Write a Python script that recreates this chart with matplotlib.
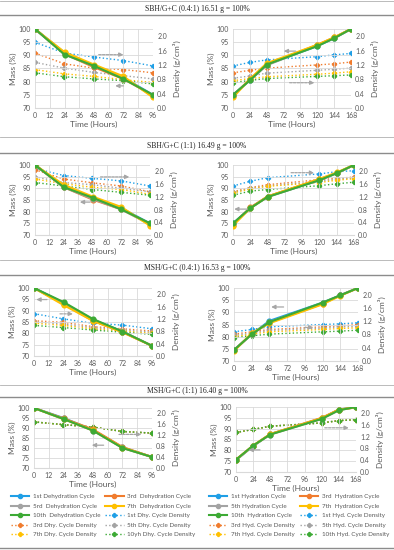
import matplotlib
matplotlib.use('Agg')
import matplotlib.pyplot as plt
from matplotlib.lines import Line2D

plt.rcParams['font.family'] = ['Lato', 'DejaVu Sans']

# time axes
hours_dhy = [0, 24, 48, 72, 96]
hours_hyd = [0, 24, 48, 120, 144, 168]

# order of series: 1st, 3rd, 5th, 7th, 10th cycle
colors = ['#1F9FE6', '#F07C2E', '#A3A3A3', '#FFC000', '#3DAA35']

titles = ['SBH/G+C (0.4:1) 16.51 g = 100%', 'SBH/G+C (1:1) 16.49 g = 100%',
          'MSH/G+C (0.4:1) 16.53 g = 100%', 'MSH/G+C (1:1) 16.40 g = 100%']

# SBH/G+C (0.4:1)
sbh04_dhy_mass = [[100, 91, 86, 81.5, 75], [100, 90.5, 85.5, 81, 74.8],
                  [100, 90.5, 86, 81.5, 74.5], [100, 91.2, 86.5, 82, 74],
                  [100, 90.3, 86, 81, 75]]
sbh04_dhy_dens = [[1.83, 1.53, 1.42, 1.32, 1.17], [1.53, 1.23, 1.11, 1.07, 0.98],
                  [1.27, 1.11, 0.99, 0.90, 0.81], [1.07, 0.95, 0.88, 0.79, 0.71],
                  [0.98, 0.87, 0.81, 0.76, 0.67]]
sbh04_hyd_mass = [[75, 80.5, 86.5, 93.5, 96.5, 100], [74.5, 81, 86.5, 94, 96.8, 100],
                  [75, 80.5, 86.2, 93.8, 96.5, 100], [74, 81, 87, 94, 96.8, 100],
                  [75, 80.5, 86.5, 93.5, 96.5, 100]]
sbh04_hyd_dens = [[1.17, 1.27, 1.34, 1.43, 1.48, 1.52], [0.98, 1.05, 1.11, 1.20, 1.23, 1.28],
                  [0.83, 0.89, 0.97, 1.05, 1.08, 1.11], [0.76, 0.82, 0.87, 0.94, 0.97, 1.01],
                  [0.70, 0.77, 0.82, 0.88, 0.90, 0.92]]

# SBH/G+C (1:1)
sbh11_dhy_mass = [[100, 91, 86, 81.5, 75], [100, 90.5, 85.2, 81, 74.8],
                  [100, 90.5, 85.5, 81, 74.5], [100, 91.5, 86.5, 82, 74],
                  [100, 90.5, 86, 81, 75]]
sbh11_dhy_dens = [[2.09, 1.87, 1.78, 1.70, 1.54], [2.05, 1.76, 1.64, 1.54, 1.36],
                  [1.83, 1.65, 1.58, 1.47, 1.36], [1.76, 1.61, 1.50, 1.43, 1.28],
                  [1.65, 1.54, 1.43, 1.34, 1.25]]
sbh11_hyd_mass = [[75, 81.5, 86.5, 93.5, 96.5, 100], [74.5, 81.8, 86.5, 94, 96.5, 100],
                  [74.5, 81.5, 86.3, 93.5, 96.5, 100], [74, 81.5, 86.5, 94, 96.8, 100],
                  [75, 81.5, 86.3, 93.5, 96.5, 100]]
sbh11_hyd_dens = [[1.54, 1.69, 1.80, 1.92, 1.99, 2.02], [1.36, 1.49, 1.58, 1.74, 1.78, 1.82],
                  [1.34, 1.47, 1.54, 1.69, 1.75, 1.80], [1.32, 1.45, 1.53, 1.65, 1.72, 1.77],
                  [1.25, 1.38, 1.43, 1.55, 1.61, 1.66]]

# MSH/G+C (0.4:1)
msh04_dhy_mass = [[100, 93.5, 86, 80.8, 74.5], [100, 93, 85.5, 80.5, 74.5],
                  [100, 93, 86, 80.8, 74.5], [100, 92.5, 85.5, 80.5, 74.5],
                  [100, 93.8, 86.3, 80.8, 74.5]]
msh04_dhy_dens = [[1.37, 1.20, 1.06, 1.00, 0.88], [1.14, 1.09, 0.95, 0.88, 0.81],
                  [1.10, 1.03, 0.92, 0.84, 0.77], [1.06, 0.99, 0.88, 0.81, 0.73],
                  [0.99, 0.92, 0.84, 0.77, 0.70]]
msh04_hyd_mass = [[74.5, 81, 86.5, 94, 97, 100], [74.5, 81, 85.8, 93.5, 97, 100],
                  [74.5, 81, 86, 93.8, 97, 100], [74, 81.5, 85.5, 93.3, 96.8, 100],
                  [74.5, 81, 86, 94, 97, 100]]
msh04_hyd_dens = [[0.88, 0.95, 1.03, 1.10, 1.12, 1.15], [0.81, 0.88, 0.95, 1.03, 1.06, 1.10],
                  [0.77, 0.84, 0.92, 0.99, 1.03, 1.04], [0.73, 0.81, 0.88, 0.95, 0.98, 1.00],
                  [0.70, 0.76, 0.81, 0.88, 0.90, 0.93]]

# MSH/G+C (1:1) - density series overlap, only the 10th is visible
msh11_dhy_mass = [[100, 95, 89, 80.3, 75.5], [100, 94.8, 89.3, 80.5, 75.5],
                  [100, 94.5, 88.7, 80, 75.5], [100, 94.5, 88.8, 80.2, 75.5],
                  [100, 94.5, 88.7, 80, 75.5]]
msh11_dhy_dens = [[1.69, 1.59, 1.50, 1.34, 1.28]] * 5
msh11_hyd_mass = [[75.5, 82, 87.5, 94.8, 98.8, 100], [75.7, 82.2, 87.5, 95, 98.8, 99.8],
                  [75.5, 82, 87.3, 94.5, 98.5, 100], [75.7, 82.2, 87.5, 94.8, 98.8, 99.8],
                  [75.7, 82.2, 87.3, 94.5, 98.5, 100]]
msh11_hyd_dens = [[1.34, 1.44, 1.55, 1.66, 1.74, 1.77]] * 5

dhy_labels = ['1st Dehydration Cycle', '3rd  Dehydration Cycle', '5rd  Dehydration Cycle',
              '7th  Dehydration Cycle', '10th  Dehydration Cycle', '1st Dhy. Cycle Density',
              '3rd Dhy. Cycle Density', '5th Dhy. Cycle Density', '7th Dhy. Cycle Density',
              '10yh Dhy. Cycle Density']
hyd_labels = ['1st Hydration Cycle', '3rd  Hydration Cycle', '5th Hydration Cycle',
              '7th  Hydration Cycle', '10th  Hydration Cycle', '1st Hyd. Cycle Density',
              '3rd Hyd. Cycle Density', '5th Hyd. Cycle Density', '7th Hyd. Cycle Density',
              '10th Hyd. Cycle Density']

W, H = 394, 550
fig = plt.figure(figsize=(W / 100, H / 100), dpi=100)

TXT = '#595959'
GRID = '#D9D9D9'
ARW = '#A6A6A6'


def px_axes(x0, x1, y0, y1):
    return fig.add_axes([x0 / W, 1 - y1 / H, (x1 - x0) / W, (y1 - y0) / H])


def panel(box, x, mass, dens, xticks, arrows):
    ax = px_axes(*box)
    ax2 = ax.twinx()
    for i in range(5):
        ax.plot(x, mass[i], color=colors[i], lw=1.5, marker='o', ms=3.4, zorder=3)
        ax2.plot(x, dens[i], color=colors[i], lw=1.0, ls=':', marker='P', ms=2.8)
    ax.set_zorder(ax2.get_zorder() + 1)
    ax.patch.set_visible(False)
    ax.set_xlim(xticks[0], xticks[-1])
    ax.set_xticks(xticks)
    ax.set_ylim(70, 100)
    ax.set_yticks(range(70, 101, 5))
    ax2.set_ylim(0, 2.2)
    ax2.set_yticks([0, 0.4, 0.8, 1.2, 1.6, 2.0])
    ax2.set_yticklabels(['0.0', '0.4', '0.8', '1.2', '1.6', '2.0'])
    ax.grid(True, color=GRID, lw=0.6)
    ax.set_axisbelow(True)
    for a in (ax, ax2):
        for s in a.spines.values():
            s.set_visible(False)
        a.tick_params(length=0, labelsize=5, labelcolor=TXT, pad=3)
    ax.spines['bottom'].set_visible(True)
    ax.spines['bottom'].set_color(GRID)
    ax.set_xlabel('Time (Hours)', fontsize=6, color=TXT, labelpad=1.5)
    ax.set_ylabel('Mass (%)', fontsize=6, color=TXT, labelpad=1)
    ax2.set_ylabel('Density (g/cm³)', fontsize=6, color=TXT, labelpad=4)
    # axis-indicator arrows (tail, head, y) in axes fraction
    for (xt, xh, yy, dashed) in arrows:
        ax.annotate('', xy=(xh, yy), xytext=(xt, yy), xycoords='axes fraction',
                    arrowprops=dict(arrowstyle='-|>', color=ARW, lw=0.9,
                                    ls=(0, (2, 1)) if dashed else '-',
                                    mutation_scale=6, shrinkA=0, shrinkB=0))
    return ax


panel((35, 153, 29, 108), hours_dhy, sbh04_dhy_mass, sbh04_dhy_dens, list(range(0, 97, 12)),
      [(0.54, 0.75, 0.675, True), (0.75, 0.68, 0.28, False)])
panel((233, 351, 29, 108), hours_hyd, sbh04_hyd_mass, sbh04_hyd_dens, list(range(0, 169, 24)),
      [(0.53, 0.43, 0.72, False), (0.48, 0.69, 0.32, True)])
panel((35, 150, 165, 235), hours_dhy, sbh11_dhy_mass, sbh11_dhy_dens, list(range(0, 97, 12)),
      [(0.57, 0.82, 0.83, True), (0.48, 0.39, 0.47, False)])
panel((233, 354, 165, 235), hours_hyd, sbh11_hyd_mass, sbh11_hyd_dens, list(range(0, 169, 24)),
      [(0.48, 0.67, 0.89, True), (0.12, 0.01, 0.37, False)])
panel((34, 152, 288, 356), hours_dhy, msh04_dhy_mass, msh04_dhy_dens, list(range(0, 97, 12)),
      [(0.11, 0.02, 0.83, False), (0.22, 0.33, 0.62, True)])
panel((234, 358, 288, 361), hours_hyd, msh04_hyd_mass, msh04_hyd_dens, list(range(0, 169, 24)),
      [(0.40, 0.30, 0.74, False), (0.57, 0.64, 0.46, True)])
panel((34, 152, 408, 468), hours_dhy, msh11_dhy_mass, msh11_dhy_dens, list(range(0, 97, 12)),
      [(0.72, 0.91, 0.56, True), (0.59, 0.49, 0.38, False)])
panel((236, 356, 407, 472), hours_hyd, msh11_hyd_mass, msh11_hyd_dens, list(range(0, 169, 24)),
      [(0.74, 0.94, 0.68, True), (0.20, 0.105, 0.34, False)])


def legend_handles():
    hs = []
    for i in range(5):
        hs.append(Line2D([], [], color=colors[i], lw=1.5, marker='o', ms=3))
    for i in range(5):
        hs.append(Line2D([], [], color=colors[i], lw=1.0, ls=':', marker='P', ms=2.8))
    return hs


# legend is filled row by row in the reference; matplotlib fills by column
order = [0, 2, 4, 6, 8, 1, 3, 5, 7, 9]
for labels, x0 in ((dhy_labels, 11), (hyd_labels, 209)):
    hs = legend_handles()
    fig.legend([hs[k] for k in order], [labels[k] for k in order], ncol=2,
               loc='upper left', bbox_to_anchor=(x0 / W, 1 - 494 / H),
               frameon=False, fontsize=4.5, labelcolor=TXT, handlelength=2.9,
               handletextpad=0.6, columnspacing=0.8, labelspacing=0.65,
               borderpad=0, borderaxespad=0)

# title bands
bands = [(1, 9, 15), (137, 146, 153), (260, 268, 275), (385, 391, 397)]
for (ya, yt, yb), t in zip(bands, titles):
    fig.add_artist(Line2D([0, 1], [1 - ya / H] * 2, color='#B0B0B0', lw=0.6))
    fig.add_artist(Line2D([0, 1], [1 - yb / H] * 2, color='#8C8C8C', lw=1.0))
    fig.text(0.5, 1 - yt / H, t, ha='center', va='center', fontsize=5.5,
             family='Liberation Serif', color='#222222')
fig.add_artist(Line2D([0, 1], [1 - 548 / H] * 2, color='#8C8C8C', lw=1.0))

fig.savefig('out.png', dpi=100)
